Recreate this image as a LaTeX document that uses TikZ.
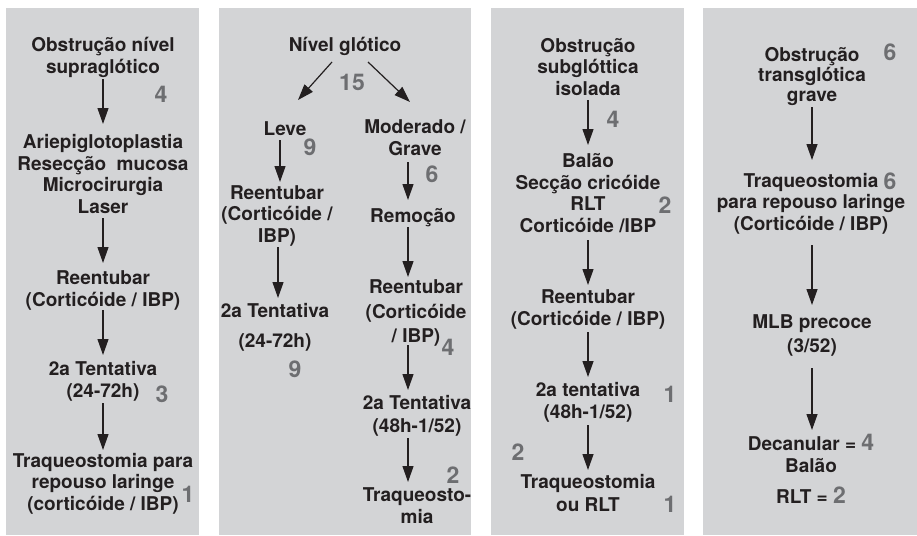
\documentclass[tikz,border=0pt]{standalone}
\usepackage{fontspec}
\setmainfont{TeX Gyre Heros}
\usetikzlibrary{arrows.meta,calc}
\definecolor{panelgray}{HTML}{D3D4D6}
\definecolor{inkc}{HTML}{231F20}
\definecolor{numc}{HTML}{6D6E71}
\newcommand{\nf}{\fontsize{23}{25}\selectfont\bfseries}
\begin{document}
\begin{tikzpicture}[x=1pt,y=-1pt,
  txt/.style={font=\fontsize{19}{21.5}\selectfont\bfseries, text=inkc, align=center, inner sep=0pt, anchor=base},
  num/.style={font=\nf, text=numc, inner sep=0pt, anchor=base},
  arr/.style={draw=inkc, line width=1.2pt, -{Triangle[length=16pt,width=11pt]}}]
\fill[white] (0,0) rectangle (917,535);
\useasboundingbox (0,0) rectangle (917,535);
\fill[panelgray] (6,8) rectangle (199,535);
\fill[panelgray] (219,8) rectangle (471,535);
\fill[panelgray] (491,8) rectangle (684,535);
\fill[panelgray] (703,8) rectangle (917,535);

% Panel 1 (node positions are the baseline of the last line)
\node[txt] (p1a) at (103,73) {Obstrução nível\\supraglótico};
\node[txt] (p1b) at (103,213) {Ariepiglotoplastia\\Resecção\ \ mucosa\\Microcirurgia\\Laser};
\node[txt] (p1c) at (103,306) {Reentubar\\(Corticóide / IBP)};
\node[txt] (p1d) at (103,397) {2a Tentativa\\(24-72h)};
\node[txt] (p1e) at (103,510) {Traqueostomia para\\repouso laringe\\(corticóide / IBP)};
\node[num] (n1a) at (161,102) {4};
\node[num] (n1d) at (162,402) {3};
\node[num] (n1e) at (188,502) {1};
\draw[arr] ($(p1a.base)+(0,6)$) -- ($(p1b.base)+(0,-89)$);
\draw[arr] ($(p1b.base)+(0,5)$) -- ($(p1c.base)+(0,-43)$);
\draw[arr] ($(p1c.base)+(0,4)$) -- ($(p1d.base)+(0,-42)$);
\draw[arr] ($(p1d.base)+(0,6)$) -- ($(p1e.base)+(0,-60)$);

% Panel 2
\node[txt] (p2a) at (345,52) {Nível glótico};
\node[num] (n2a) at (352,90) {15};
\node[txt] (p2l1) at (285,135) {Leve};
\node[num] (n2l1) at (310,155) {9};
\node[txt] (p2l2) at (277,242) {Reentubar\\(Corticóide /\\IBP)};
\node[txt] (p2l3) at (275,347) {2a Tentativa\\[8.5pt](24-72h)};
\node[num] (n2l3) at (295,377) {9};
\node[txt] (p2r1) at (415,155) {Moderado /\\Grave};
\node[num] (n2r1) at (432,182) {6};
\node[txt] (p2r2) at (413,222) {Remoção};
\node[txt] (p2r3) at (416,342) {Reentubar\\[3pt](Corticóide\\[2.5pt]/ IBP)};
\node[num] (n2r3) at (448,355) {4};
\node[txt] (p2r4) at (417,432) {2a Tentativa\\[1.5pt](48h-1/52)};
\node[num] (n2r4) at (453,483) {2};
\node[txt] (p2r5) at (417,523) {Traqueosto-\\mia};
\draw[arr] ($(p2a.base)+(-13,10)$) -- ($(p2l1.base)+(13,-35)$);
\draw[arr] ($(p2a.base)+(23,10)$) -- ($(p2r1.base)+(-5,-53)$);
\draw[arr] ($(p2l1.base)+(-5,5)$) -- ($(p2l2.base)+(3,-60)$);
\draw[arr] ($(p2l2.base)+(1,5)$) -- ($(p2l3.base)+(3,-49)$);
\draw[arr] ($(p2r1.base)+(-7,7)$) -- ($(p2r2.base)+(-5,-22)$);
\draw[arr] ($(p2r2.base)+(-5,5)$) -- ($(p2r3.base)+(-8,-65)$);
\draw[arr] ($(p2r3.base)+(-8,3)$) -- ($(p2r4.base)+(-9,-42)$);
\draw[arr] ($(p2r4.base)+(-9,6)$) -- ($(p2r5.base)+(-9,-41)$);

% Panel 3
\node[txt] (p3a) at (588,95) {Obstrução\\subglóttica\\isolada};
\node[num] (n3a) at (613,127) {4};
\node[txt] (p3b) at (588,232) {Balão\\Secção cricóide\\RLT\\Corticóide /IBP};
\node[num] (n3b) at (665,213) {2};
\node[txt] (p3c) at (588,325) {Reentubar\\[0.5pt](Corticóide / IBP)};
\node[txt] (p3d) at (588,418) {2a tentativa\\(48h-1/52)};
\node[num] (n3d) at (670,402) {1};
\node[num] (n3e) at (518,460) {2};
\node[txt] (p3e) at (588,511) {Traqueostomia\\[1.5pt]ou RLT};
\node[num] (n3f) at (670,512) {1};
\draw[arr] ($(p3a.base)+(0,5)$) -- ($(p3b.base)+(0,-87)$);
\draw[arr] ($(p3b.base)+(0,8)$) -- ($(p3c.base)+(0,-40)$);
\draw[arr] ($(p3c.base)+(0,7)$) -- ($(p3d.base)+(0,-41)$);
\draw[arr] ($(p3d.base)+(0,7)$) -- ($(p3e.base)+(0,-41)$);

% Panel 4
\node[txt] (p4a) at (812,101) {Obstrução\\[-1.5pt]transglótica\\[-1.5pt]grave};
\node[num] (n4a) at (890,60) {6};
\node[txt] (p4b) at (811,230) {Traqueostomia\\para repouso laringe\\(Corticóide / IBP)};
\node[num] (n4b) at (890,189) {6};
\node[txt] (p4c) at (812,352) {MLB precoce\\[2.5pt](3/52)};
\node[txt] (p4d) at (811,503) {Decanular = {\nf\color{numc}4}\\Balão\\[9.5pt]RLT = {\nf\color{numc}2}};
\draw[arr] ($(p4a.base)+(0,6)$) -- ($(p4b.base)+(1,-70)$);
\draw[arr] ($(p4b.base)+(1,15)$) -- ($(p4c.base)+(0,-47)$);
\draw[arr] ($(p4c.base)+(0,16)$) -- ($(p4d.base)+(1,-73)$);
\end{tikzpicture}
\end{document}
